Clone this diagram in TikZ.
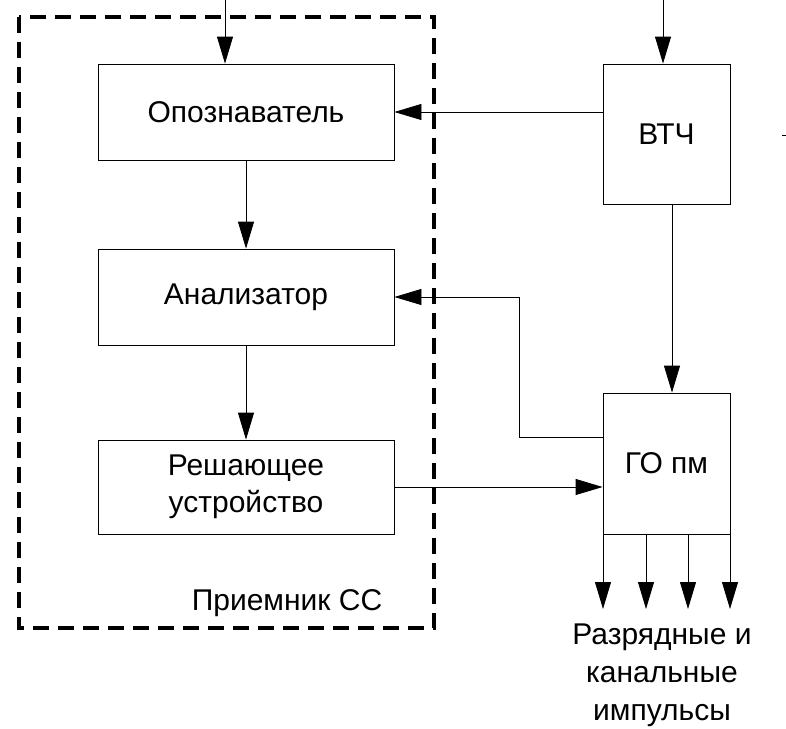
\documentclass[tikz,border=0pt]{standalone}
\usepackage{fontspec}
\setmainfont{Liberation Sans}
\usetikzlibrary{arrows.meta,calc}
\begin{document}
\begin{tikzpicture}[x=1pt,y=-1pt,
  box/.style={draw,line width=0.8pt,minimum width=296pt,minimum height=96pt,inner sep=0pt,font=\fontsize{30}{37}\selectfont,align=center},
  sbox/.style={draw,line width=0.8pt,minimum width=127pt,minimum height=140pt,inner sep=0pt,font=\fontsize{30}{37}\selectfont},
  arr/.style={line width=0.8pt,-{Triangle[length=27pt,width=16pt]}},
  lbl/.style={font=\fontsize{30}{38}\selectfont,align=center,inner sep=0pt}]
\useasboundingbox (0,0) rectangle (786,728);
% dashed frame
\draw[line width=3.8pt,dash pattern=on 16pt off 9pt] (19,17) rectangle (434,628);
% boxes
\node[box] (op) at (246,112) {Опознаватель};
\node[box] (an) at (246,297) {Анализатор};
\node[box,minimum height=94pt] (rs) at (246,487) {Решающее\\устройство};
\node[sbox] (vt) at (666.5,134) {ВТЧ};
\node[sbox,minimum height=141pt] (go) at (666.5,463.5) {ГО пм};
% labels
\node[lbl] (pr) at (287,603) {Приемник СС};
\node[lbl] (out) at (662,675) {Разрядные и\\канальные\\импульсы};
% input coordinates
\coordinate (in1) at (225,0);
\coordinate (in2) at (663,0);
\coordinate (vx) at (672,0);
\coordinate (fb) at (519,0);
% connectors
\draw[arr] (in1) -- (in1 |- op.north);
\draw[arr] (in2) -- (in2 |- vt.north);
\draw[arr] (vt.west |- op.east) -- (op.east);
\draw[arr] (op.south) -- (an.north);
\draw[arr] (an.south) -- (rs.north);
\draw[arr] (vx |- vt.south) -- (vx |- go.north);
\draw[arr] (go.west |- 0,437) -| (fb |- an.east) -- (an.east);
\draw[arr] (rs.east) -- (go.west |- rs.east);
% outputs
\foreach \i/\x in {1/603,2/646,3/688,4/730}{
  \coordinate (o\i) at (\x,609);
  \draw[arr] (o\i |- go.south) -- (o\i);
}
% stray mark
\draw[line width=0.8pt] (782,135) -- (786,135);
\end{tikzpicture}
\end{document}
